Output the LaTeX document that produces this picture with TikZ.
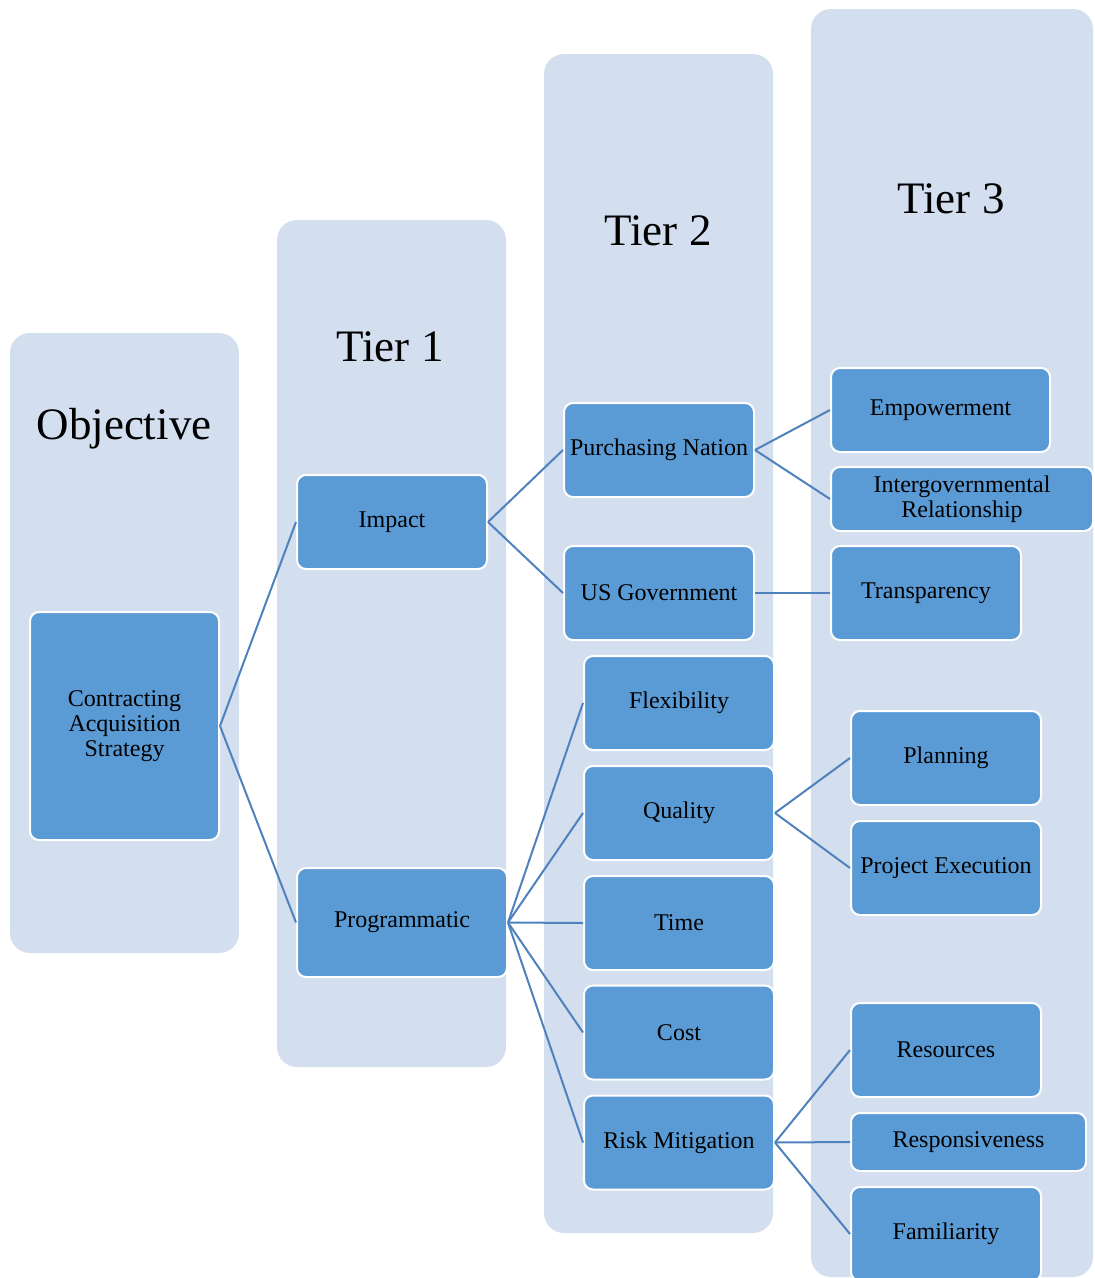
\documentclass[tikz,border=0pt]{standalone}
\usepackage{fontspec}
\setmainfont{Liberation Serif}
\definecolor{colfill}{HTML}{D3DEEF}
\definecolor{boxfill}{HTML}{5B9BD5}
\definecolor{linkcol}{HTML}{4F81BD}
\begin{document}
\begin{tikzpicture}[x=1pt,y=-1pt,
        column/.style={fill=colfill,rounded corners=20pt},
        title/.style={font=\fontsize{45}{50}\selectfont},
        item/.style={rectangle,rounded corners=9pt,fill=boxfill,draw=white,line width=2pt,
            align=center,inner sep=0pt,minimum width=190pt,minimum height=94pt,
            font=\fontsize{24}{25}\selectfont},
        link/.style={draw=linkcol,line width=2pt}]
        \useasboundingbox (0,0) rectangle (1095,1278);
        % background columns
        \fill[column] (10,333) rectangle (239,953);
        \fill[column] (277,220) rectangle (506,1067);
        \fill[column] (544,54) rectangle (773,1233);
        \fill[column] (811,9) rectangle (1093,1277);
        \node[title] (objective) at (124,429) {Objective};
        \node[title] (tierone) at (390,347) {Tier 1};
        \node[title] (tiertwo) at (658,231) {Tier 2};
        \node[title] (tierthree) at (951,199) {Tier 3};
        % objective and tier 1
        \node[item,minimum width=189pt,minimum height=228pt] (cas) at (124.5,726) {Contracting\\Acquisition\\Strategy};
        \node[item] (impact) at (392,522) {Impact};
        \node[item,minimum width=210pt,minimum height=109pt] (prog) at (402,922.5) {Programmatic};
        % tier 2
        \node[item] (purch) at (659,450) {Purchasing Nation};
        \node[item] (usgov) at (659,593) {US Government};
        \node[item] (flex) at (679,703) {Flexibility};
        \node[item] (qual) at (679,813) {Quality};
        \node[item] (time) at (679,923) {Time};
        \node[item] (cost) at (679,1032.5) {Cost};
        \node[item] (risk) at (679,1142.5) {Risk Mitigation};
        % tier 3
        \node[item,minimum width=219pt,minimum height=84pt] (empow) at (940.5,410) {Empowerment};
        \node[item,minimum width=262pt,minimum height=64pt] (intergov) at (962,499) {Intergovernmental\\Relationship};
        \node[item] (transp) at (926,593) {Transparency};
        \node[item] (plan) at (946,758) {Planning};
        \node[item] (projex) at (946,868) {Project Execution};
        \node[item] (resour) at (946,1050) {Resources};
        \node[item,minimum width=235pt,minimum height=58pt] (respon) at (968.5,1142) {Responsiveness};
        \node[item] (famil) at (946,1234) {Familiarity};
        % connectors
        \draw[link] (cas.east) -- (impact.west);
        \draw[link] (cas.east) -- (prog.west);
        \draw[link] (impact.east) -- (purch.west);
        \draw[link] (impact.east) -- (usgov.west);
        \draw[link] (prog.east) -- (flex.west);
        \draw[link] (prog.east) -- (qual.west);
        \draw[link] (prog.east) -- (time.west);
        \draw[link] (prog.east) -- (cost.west);
        \draw[link] (prog.east) -- (risk.west);
        \draw[link] (purch.east) -- (empow.west);
        \draw[link] (purch.east) -- (intergov.west);
        \draw[link] (usgov.east) -- (transp.west);
        \draw[link] (qual.east) -- (plan.west);
        \draw[link] (qual.east) -- (projex.west);
        \draw[link] (risk.east) -- (resour.west);
        \draw[link] (risk.east) -- (respon.west);
        \draw[link] (risk.east) -- (famil.west);
\end{tikzpicture}
\end{document}
